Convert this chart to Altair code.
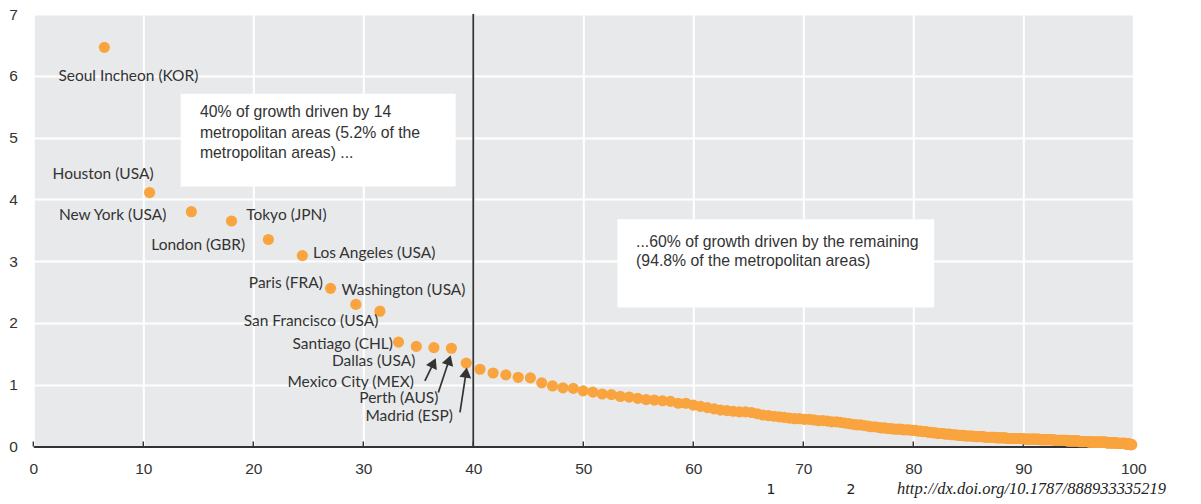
import altair as alt
import pandas as pd

# Share of total growth (%) of each metropolitan area, ranked from largest to smallest
shares = [
    6.46, 4.11, 3.80, 3.65, 3.35, 3.09, 2.56, 2.30, 2.19, 1.69, 1.62, 1.60, 1.59, 1.35,
    1.25, 1.19, 1.16, 1.12, 1.11, 1.03, 0.98, 0.95, 0.94, 0.90, 0.88, 0.85, 0.84, 0.81,
    0.80, 0.78, 0.76, 0.75, 0.74, 0.73, 0.70, 0.70,
    0.67, 0.65, 0.63, 0.61, 0.59,
    0.58, 0.57, 0.56, 0.56, 0.55,
    0.53, 0.51, 0.50, 0.49, 0.48,
    0.47, 0.46, 0.45, 0.45, 0.44,
    0.44, 0.43, 0.42, 0.42, 0.41, 0.40, 0.40, 0.39,
    0.38, 0.37, 0.36, 0.35, 0.35, 0.34, 0.33, 0.32, 0.32, 0.31, 0.30,
    0.30, 0.29, 0.29, 0.28, 0.28, 0.28, 0.27, 0.27, 0.27, 0.26,
    0.26, 0.25, 0.25, 0.24, 0.24, 0.23, 0.23, 0.22, 0.22, 0.21, 0.21, 0.21, 0.20, 0.20,
    0.20, 0.19, 0.19, 0.19, 0.18,
    0.18, 0.18, 0.18, 0.17, 0.17, 0.17, 0.17, 0.17, 0.16, 0.16, 0.16, 0.16, 0.16, 0.16,
    0.15, 0.15, 0.15, 0.15, 0.15, 0.15, 0.15, 0.14, 0.14, 0.14, 0.14, 0.14, 0.14, 0.14,
    0.13, 0.13, 0.13, 0.13, 0.13, 0.13, 0.13, 0.13, 0.13, 0.13, 0.13, 0.13,
    0.12, 0.12, 0.12, 0.12, 0.12, 0.12, 0.12, 0.12, 0.12, 0.12, 0.12, 0.12,
    0.11, 0.11, 0.11, 0.11, 0.11, 0.11, 0.11, 0.11, 0.11, 0.11, 0.11, 0.11,
    0.10, 0.10, 0.10, 0.10, 0.10, 0.10, 0.10, 0.10, 0.10, 0.10, 0.10, 0.10,
    0.09, 0.09, 0.09, 0.09, 0.09, 0.09, 0.09, 0.09, 0.09, 0.09, 0.09, 0.09,
    0.08, 0.08, 0.08, 0.08, 0.08, 0.08, 0.08, 0.08, 0.08, 0.08, 0.08, 0.08,
    0.07, 0.07, 0.07, 0.07, 0.07, 0.07, 0.07, 0.07, 0.07, 0.07, 0.07, 0.07,
    0.07, 0.07, 0.07, 0.07, 0.07, 0.07, 0.07, 0.07, 0.07, 0.07,
    0.06, 0.06, 0.06, 0.06, 0.06, 0.06, 0.06, 0.06, 0.06, 0.06, 0.06, 0.06, 0.06, 0.06, 0.06,
    0.05, 0.05, 0.05, 0.05, 0.05, 0.05, 0.05, 0.05, 0.05, 0.05, 0.05, 0.05, 0.05, 0.05,
    0.05, 0.05, 0.05, 0.05,
    0.04, 0.04, 0.04, 0.04, 0.04, 0.04, 0.04, 0.04, 0.04, 0.04,
    0.03, 0.03, 0.03, 0.03, 0.03,
]

city_names = [
    "Seoul Incheon (KOR)", "Houston (USA)", "New York (USA)", "Tokyo (JPN)",
    "London (GBR)", "Los Angeles (USA)", "Paris (FRA)", "San Francisco (USA)",
    "Washington (USA)", "Santiago (CHL)", "Dallas (USA)", "Mexico City (MEX)",
    "Perth (AUS)", "Madrid (ESP)",
]

x_ticks = [0, 10, 20, 30, 40, 50, 60, 70, 80, 90, 100]
y_ticks = [0, 1, 2, 3, 4, 5, 6, 7]
threshold = [40]

note_left = "40% of growth driven by 14\nmetropolitan areas (5.2% of the\nmetropolitan areas) ..."
note_right = "...60% of growth driven by the remaining\n(94.8% of the metropolitan areas)"
footnote_marks = ["1", "2"]
source_url = "http://dx.doi.org/10.1787/888933335219"

# ---------------------------------------------------------------- styles
W, H = 1100, 432.5
ORANGE = "#F9A43E"
DARK = "#333333"
BG = "#E8E9EB"
SANS = "'Liberation Sans', Arial, sans-serif"
LABEL_FONT = "Lato, 'Open Sans', sans-serif"

# (align, dx, dy) of each city label relative to its point
label_style = [
    ("center", 24, 28.5), ("center", -46.5, -18.6), ("right", -25, 3.6),
    ("left", 14.7, -5.7), ("right", -23.3, 5.3), ("left", 10.7, -3),
    ("right", -7.7, -5), ("right", 22.6, 16.3), ("left", -38.3, -21),
    ("right", -5.6, 1.7), ("right", -1, 14.3), ("right", -20, 34),
    ("right", -13, 49.4), ("right", -13.4, 53.4),
]

# annotation geometry in data units
boxes = pd.DataFrame({"x": [13.4, 53.1], "x2": [38.4, 81.9],
                      "y": [4.21, 2.25], "y2": [5.71, 3.68]})
notes = pd.DataFrame({"x": [15.15], "y": [5.52], "t": [note_left]})
notes2 = pd.DataFrame({"x": [54.8], "y": [3.43], "t": [note_right]})
arrows = pd.DataFrame({
    "x": [35.60, 36.82, 38.79], "y": [1.061, 0.873, 0.551],
    "x2": [36.39, 37.80, 39.34], "y2": [1.354, 1.399, 1.196],
    "angle": [25, 18, 8.5],
})

# ---------------------------------------------------------------- data
df = pd.DataFrame({"share": shares})
df["cum"] = df["share"].cumsum()
df["name"] = city_names + [""] * (len(shares) - len(city_names))

xs = alt.Scale(domain=[0, 100], nice=False)
ys = alt.Scale(domain=[0, 7], nice=False)

x_axis = alt.Axis(values=x_ticks, format="d", title=None, grid=True, gridColor="white",
                  gridWidth=2, domain=True, domainColor=DARK, domainWidth=2.2, ticks=False,
                  tickSize=0, labelFlush=False, labelFont=SANS, labelFontSize=15.5,
                  labelColor=DARK, labelPadding=15)
y_axis = alt.Axis(values=y_ticks, format="d", title=None, grid=True, gridColor="white",
                  gridWidth=2, domain=False, ticks=False, tickSize=0, labelFlush=False,
                  labelFont=SANS, labelFontSize=15.5, labelColor=DARK, labelPadding=16)

points = alt.Chart(df).mark_circle(size=125, color=ORANGE, opacity=1).encode(
    x=alt.X("cum:Q", scale=xs, axis=x_axis),
    y=alt.Y("share:Q", scale=ys, axis=y_axis),
)

vline = alt.Chart(pd.DataFrame({"x": threshold})).mark_rule(color=DARK, strokeWidth=1.8).encode(
    x=alt.X("x:Q", scale=xs)
)

ticks = alt.Chart(pd.DataFrame({"t": x_ticks})).mark_rule(color=DARK, strokeWidth=1.4).encode(
    x=alt.X("t:Q", scale=xs), y=alt.value(H - 5), y2=alt.value(H)
)

rects = alt.Chart(boxes).mark_rect(color="white").encode(
    x=alt.X("x:Q", scale=xs), x2="x2:Q", y=alt.Y("y:Q", scale=ys), y2="y2:Q"
)

note1 = alt.Chart(notes).mark_text(align="left", baseline="top", font=SANS, fontSize=15.8,
                                   lineHeight=20.5, lineBreak="\n", color=DARK).encode(
    x=alt.X("x:Q", scale=xs), y=alt.Y("y:Q", scale=ys), text="t:N")
note2 = alt.Chart(notes2).mark_text(align="left", baseline="top", font=SANS, fontSize=15.8,
                                    lineHeight=19.5, lineBreak="\n", color=DARK).encode(
    x=alt.X("x:Q", scale=xs), y=alt.Y("y:Q", scale=ys), text="t:N")

label_layers = []
for i, (al, dx, dy) in enumerate(label_style):
    label_layers.append(
        alt.Chart(df.iloc[[i]]).mark_text(align=al, baseline="middle", dx=dx, dy=dy,
                                          font=LABEL_FONT, fontSize=15.5, color=DARK).encode(
            x=alt.X("cum:Q", scale=xs), y=alt.Y("share:Q", scale=ys), text="name:N")
    )

shafts = alt.Chart(arrows).mark_rule(color=DARK, strokeWidth=1.7).encode(
    x=alt.X("x:Q", scale=xs), y=alt.Y("y:Q", scale=ys), x2="x2:Q", y2="y2:Q")
heads = alt.Chart(arrows).mark_point(shape="triangle-up", filled=True, color=DARK,
                                     opacity=1, size=140).encode(
    x=alt.X("x2:Q", scale=xs), y=alt.Y("y2:Q", scale=ys), angle=alt.Angle("angle:Q", scale=None))

foot = pd.DataFrame({"t": footnote_marks, "px": [737.7, 817.7]})
marks_txt = alt.Chart(foot).mark_text(align="center", baseline="middle", font="DejaVu Sans",
                                      fontSize=14, color="#222222").encode(
    x=alt.X("px:Q", scale=None), y=alt.value(H + 44), text="t:N")
url_txt = alt.Chart(pd.DataFrame({"t": [source_url]})).mark_text(
    align="left", baseline="middle", font="'Liberation Serif', serif", fontStyle="italic",
    fontSize=16.5, color="#222222").encode(
    x=alt.value(863.7), y=alt.value(H + 43), text="t:N")

chart = alt.layer(
    rects, vline, ticks, points, note1, note2, *label_layers, shafts, heads, marks_txt, url_txt
).properties(
    width=W, height=H,
    autosize=alt.AutoSizeParams(type="none"),
    padding={"left": 25.3, "top": 6, "right": 50, "bottom": 55},
).configure_view(fill=BG, strokeWidth=0)

chart.save("out.html", embed_options={"renderer": "svg", "actions": False})
